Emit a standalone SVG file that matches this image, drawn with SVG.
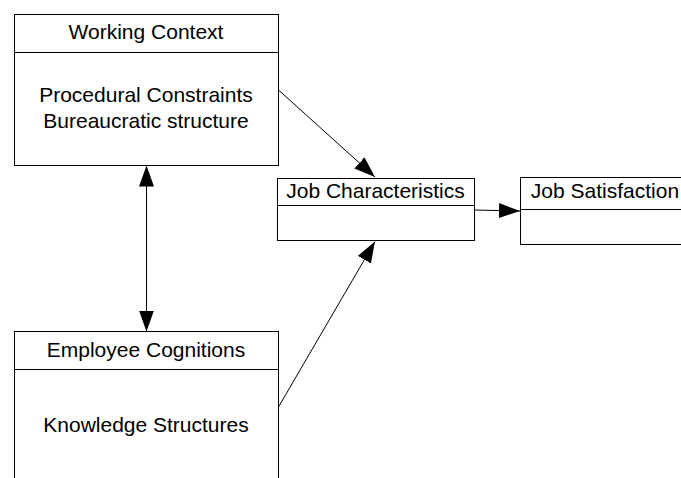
<svg xmlns="http://www.w3.org/2000/svg" width="681" height="478" viewBox="0 0 681 478">
<style>
.box{fill:#fff;stroke:#000;stroke-width:1}
.div{stroke:#000;stroke-width:1}
.t{font-family:"Liberation Sans",Arial,sans-serif;font-size:21px;fill:#000;text-anchor:middle}
.c{stroke:#000;stroke-width:1;fill:none}
</style>
<defs>
<marker id="ah" markerUnits="userSpaceOnUse" markerWidth="22" markerHeight="16" refX="21" refY="7.5" orient="auto-start-reverse" viewBox="0 0 22 16">
<path d="M0,0 L21,7.5 L0,15 z" fill="#000"/>
</marker>
</defs>
<rect width="681" height="478" fill="#fff"/>
<g id="working-context">
<rect class="box" x="14.5" y="14.5" width="264" height="151"/>
<line class="div" x1="14.5" y1="52.5" x2="278.5" y2="52.5"/>
<text class="t" x="146" y="39">Working Context</text>
<text class="t" x="146" y="101.5">Procedural Constraints</text>
<text class="t" x="146" y="128">Bureaucratic structure</text>
</g>
<g id="job-characteristics">
<rect class="box" x="277.5" y="178.5" width="197" height="62"/>
<line class="div" x1="277.5" y1="205.5" x2="474.5" y2="205.5"/>
<text class="t" x="375.5" y="197.5">Job Characteristics</text>
</g>
<g id="job-satisfaction">
<rect class="box" x="520.5" y="177.5" width="170" height="67"/>
<line class="div" x1="520.5" y1="209.5" x2="690.5" y2="209.5"/>
<text class="t" x="605" y="197.5">Job Satisfaction</text>
</g>
<g id="employee-cognitions">
<rect class="box" x="14.5" y="331.5" width="264" height="160"/>
<line class="div" x1="14.5" y1="369.5" x2="278.5" y2="369.5"/>
<text class="t" x="146" y="356.5">Employee Cognitions</text>
<text class="t" x="146" y="431.5">Knowledge Structures</text>
</g>
<g id="connectors">
<line class="c" x1="278.5" y1="90" x2="375" y2="177" marker-end="url(#ah)"/>
<line class="c" x1="146.5" y1="165.5" x2="146.5" y2="331.5" marker-start="url(#ah)" marker-end="url(#ah)"/>
<line class="c" x1="278.5" y1="407" x2="375" y2="241.5" marker-end="url(#ah)"/>
<line class="c" x1="474.5" y1="210" x2="520" y2="211" marker-end="url(#ah)"/>
</g>
</svg>
